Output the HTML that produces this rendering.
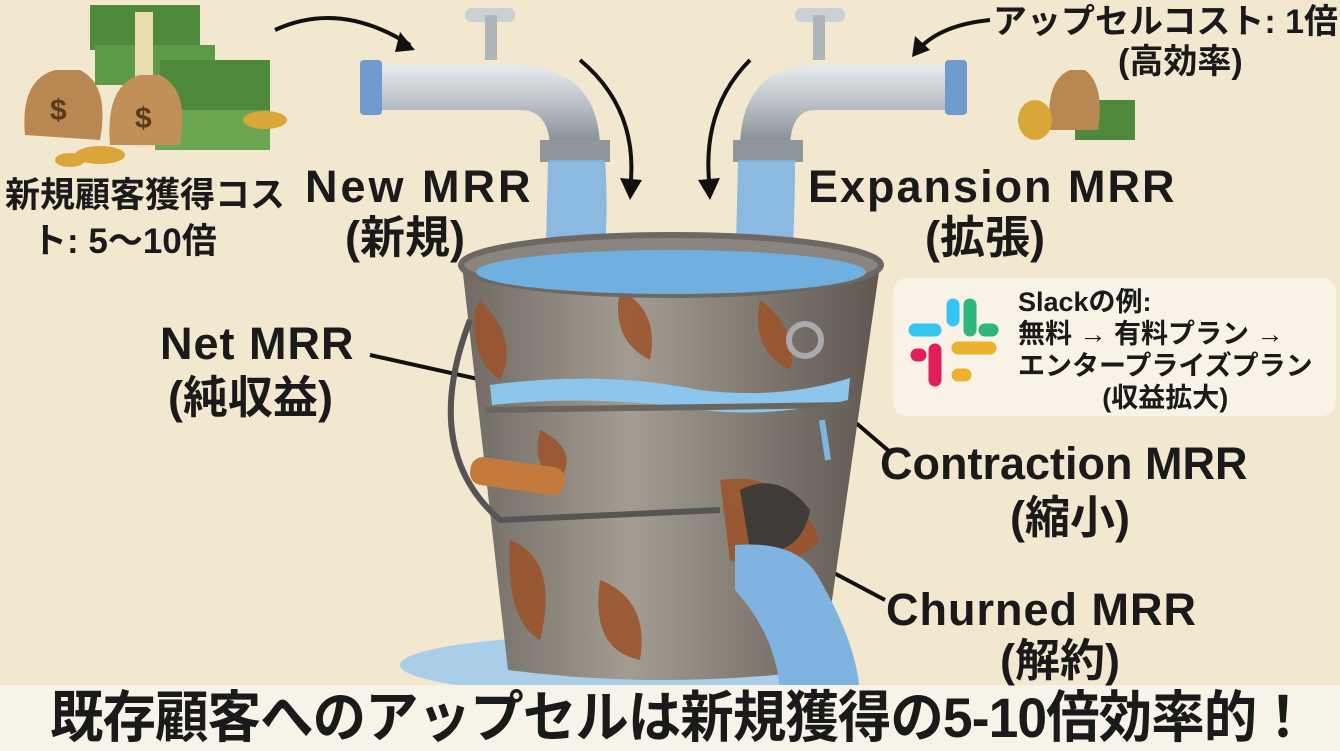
<!DOCTYPE html>
<html><head><meta charset="utf-8"><style>
html,body{margin:0;padding:0}
body{width:1340px;height:751px;overflow:hidden;background:#f2e8cf;position:relative;font-family:"Liberation Sans","Noto Sans CJK JP",sans-serif;color:#1a1a1a}
.t{position:absolute;font-weight:bold;white-space:nowrap;line-height:1}
.m{font-size:45px}
svg{position:absolute;left:0;top:0}
</style></head><body>
<svg width="1340" height="751" viewBox="0 0 1340 751">
<defs>
<linearGradient id="pipe" x1="0" y1="0" x2="0" y2="1"><stop offset="0" stop-color="#e8ecef"/><stop offset="0.5" stop-color="#b6bcc2"/><stop offset="1" stop-color="#7d848b"/></linearGradient>
<linearGradient id="buck" x1="0" y1="0" x2="1" y2="0"><stop offset="0" stop-color="#6f6a63"/><stop offset="0.4" stop-color="#a39c92"/><stop offset="1" stop-color="#5e5851"/></linearGradient>
</defs>
<g>
<rect x="90" y="5" width="110" height="45" fill="#4f8a3c"/><rect x="95" y="45" width="120" height="40" fill="#5c9a45"/>
<rect x="160" y="60" width="110" height="60" fill="#4f8a3c"/><rect x="155" y="110" width="115" height="40" fill="#6aa650"/>
<rect x="135" y="12" width="18" height="135" fill="#e9dcb0"/>
<path d="M25 135 Q20 80 55 70 L80 70 Q110 85 100 140 Z" fill="#b88752"/>
<text x="50" y="120" font-size="30" font-weight="bold" fill="#5a3b18">$</text>
<path d="M110 145 Q105 85 140 75 L160 75 Q190 90 180 145 Z" fill="#c09058"/>
<text x="135" y="128" font-size="30" font-weight="bold" fill="#5a3b18">$</text>
<ellipse cx="100" cy="155" rx="25" ry="9" fill="#d9a63a"/><ellipse cx="265" cy="120" rx="22" ry="9" fill="#d9a63a"/><ellipse cx="70" cy="160" rx="15" ry="7" fill="#d9a63a"/>
</g>
<g>
<rect x="1075" y="100" width="60" height="40" fill="#4f8a3c"/>
<path d="M1050 130 Q1045 80 1070 70 L1085 70 Q1105 85 1098 130 Z" fill="#b88752"/>
<ellipse cx="1035" cy="120" rx="17" ry="20" fill="#d9a63a"/>
</g>
<g>
<rect x="465" y="8" width="50" height="14" rx="6" fill="#c9d0d6"/><rect x="485" y="15" width="12" height="45" fill="#aeb5bb"/>
<path d="M375 65 L520 65 Q600 70 600 150 L550 150 Q550 110 520 110 L375 110 Z" fill="url(#pipe)"/>
<rect x="360" y="60" width="22" height="55" rx="4" fill="#6f9ccc"/>
<rect x="540" y="140" width="70" height="22" fill="#8f969c"/>
<rect x="795" y="8" width="50" height="14" rx="6" fill="#c9d0d6"/><rect x="813" y="15" width="12" height="45" fill="#aeb5bb"/>
<path d="M950 65 L810 65 Q740 70 740 150 L790 150 Q790 110 815 110 L950 110 Z" fill="url(#pipe)"/>
<rect x="945" y="60" width="22" height="55" rx="4" fill="#6f9ccc"/>
<rect x="733" y="140" width="70" height="22" fill="#8f969c"/>
</g>
<path d="M548 160 L605 160 Q610 230 600 290 L545 290 Z" fill="#7fb4e0" opacity="0.9"/>
<path d="M738 160 L795 160 Q795 230 790 290 L735 290 Z" fill="#7fb4e0" opacity="0.9"/>
<g fill="none" stroke="#111" stroke-width="4">
<path d="M275 30 Q340 0 410 45"/><path d="M580 60 Q640 110 630 190"/><path d="M750 60 Q700 110 710 190"/><path d="M990 20 Q940 25 918 50"/>
<path d="M370 355 L505 385"/><path d="M890 452 L835 405"/><path d="M885 600 L800 555"/>
</g>
<g fill="#111">
<path d="M415 50 L400 32 L395 52Z"/><path d="M630 200 L620 178 L642 180Z"/><path d="M710 200 L698 180 L720 178Z"/><path d="M912 57 L915 36 L930 50Z"/>
<path d="M515 388 L495 375 L493 393Z"/><path d="M825 397 L838 417 L848 403Z"/><path d="M790 549 L801 569 L812 553Z"/>
</g>
<ellipse cx="620" cy="665" rx="220" ry="30" fill="#a9cfe8"/>
<path d="M462 265 L880 265 L822 670 Q660 690 508 670 Z" fill="url(#buck)"/>
<g fill="#9c5228" opacity="0.85">
<path d="M480 300 Q520 340 500 380 Q470 360 475 310Z"/><path d="M620 290 Q660 310 650 360 Q610 340 620 290Z"/>
<path d="M760 300 Q800 330 790 370 Q750 350 760 300Z"/><path d="M510 540 Q560 560 540 640 Q505 620 510 540Z"/>
<path d="M600 580 Q650 600 640 660 Q590 650 600 580Z"/><path d="M720 480 Q790 470 820 540 Q780 580 730 560Z"/>
<path d="M540 430 Q580 450 560 480 Q530 470 540 430Z"/>
</g>
<path d="M740 490 Q780 470 810 510 Q800 560 750 550Z" fill="#3f3b37"/>
<ellipse cx="671" cy="265" rx="210" ry="30" fill="#8a8580" stroke="#6d6863" stroke-width="6"/>
<ellipse cx="671" cy="272" rx="195" ry="22" fill="#6fb0e0"/>
<path d="M490 385 Q600 370 700 390 Q780 400 850 378 L848 400 Q760 420 690 408 Q590 395 492 405Z" fill="#8dc6ec"/>
<path d="M485 410 L850 405" stroke="#6a655f" stroke-width="6"/>
<path d="M470 320 Q420 450 500 520 L720 510" fill="none" stroke="#555" stroke-width="6"/>
<rect x="470" y="462" width="95" height="28" rx="12" fill="#c47a3c" transform="rotate(8 517 476)"/>
<circle cx="805" cy="340" r="16" fill="none" stroke="#aaa" stroke-width="6"/>
<path d="M735 545 Q800 540 820 580 Q860 650 860 700 L780 700 Q780 640 735 590Z" fill="#7fb4e0"/>
<path d="M822 420 L828 460" stroke="#7fb4e0" stroke-width="6"/>
<rect x="893" y="278" width="443" height="138" rx="14" fill="#f8f3e6"/>
<g stroke-linecap="round" stroke-width="13">
<line x1="915" y1="330" x2="935" y2="330" stroke="#36c5f0"/><line x1="953" y1="305" x2="953" y2="320" stroke="#36c5f0"/>
<line x1="970" y1="305" x2="970" y2="330" stroke="#2eb67d"/><line x1="985" y1="330" x2="992" y2="330" stroke="#2eb67d"/>
<line x1="917" y1="355" x2="920" y2="355" stroke="#e01e5a"/><line x1="935" y1="350" x2="935" y2="380" stroke="#e01e5a"/>
<line x1="958" y1="348" x2="990" y2="348" stroke="#ecb22e"/><line x1="958" y1="375" x2="965" y2="375" stroke="#ecb22e"/>
</g>
<rect x="0" y="685" width="1340" height="66" fill="#f7f3e8"/>
</svg>
<div class="t" style="left:5px;top:178px;font-size:35px">新規顧客獲得コス</div>
<div class="t" style="left:32px;top:224px;font-size:35px">ト: 5〜10倍</div>
<div class="t" style="left:993px;top:5px;font-size:34px">アップセルコスト: 1倍</div>
<div class="t" style="left:1118px;top:45px;font-size:34px">(高効率)</div>
<div class="t m" style="left:305px;top:164px;letter-spacing:3px">New MRR</div>
<div class="t m" style="left:345px;top:215px">(新規)</div>
<div class="t m" style="left:808px;top:164px;letter-spacing:2px">Expansion MRR</div>
<div class="t m" style="left:925px;top:215px">(拡張)</div>
<div class="t m" style="left:160px;top:321px;letter-spacing:1px">Net MRR</div>
<div class="t m" style="left:168px;top:375px">(純収益)</div>
<div class="t m" style="left:880px;top:441px">Contraction MRR</div>
<div class="t m" style="left:1010px;top:495px">(縮小)</div>
<div class="t m" style="left:886px;top:587px;letter-spacing:1px">Churned MRR</div>
<div class="t m" style="left:1000px;top:638px">(解約)</div>
<div class="t" style="left:1018px;top:286px;font-size:27px;line-height:32px;text-align:center">
<div style="text-align:left">Slackの例:</div><div style="text-align:left">無料 → 有料プラン →</div><div>エンタープライズプラン</div><div>(収益拡大)</div></div>
<div class="t" style="left:50px;top:690px;font-size:56px;transform:scaleX(0.955);transform-origin:left top;letter-spacing:-1px">既存顧客へのアップセルは新規獲得の5-10倍効率的！</div>
</body></html>
